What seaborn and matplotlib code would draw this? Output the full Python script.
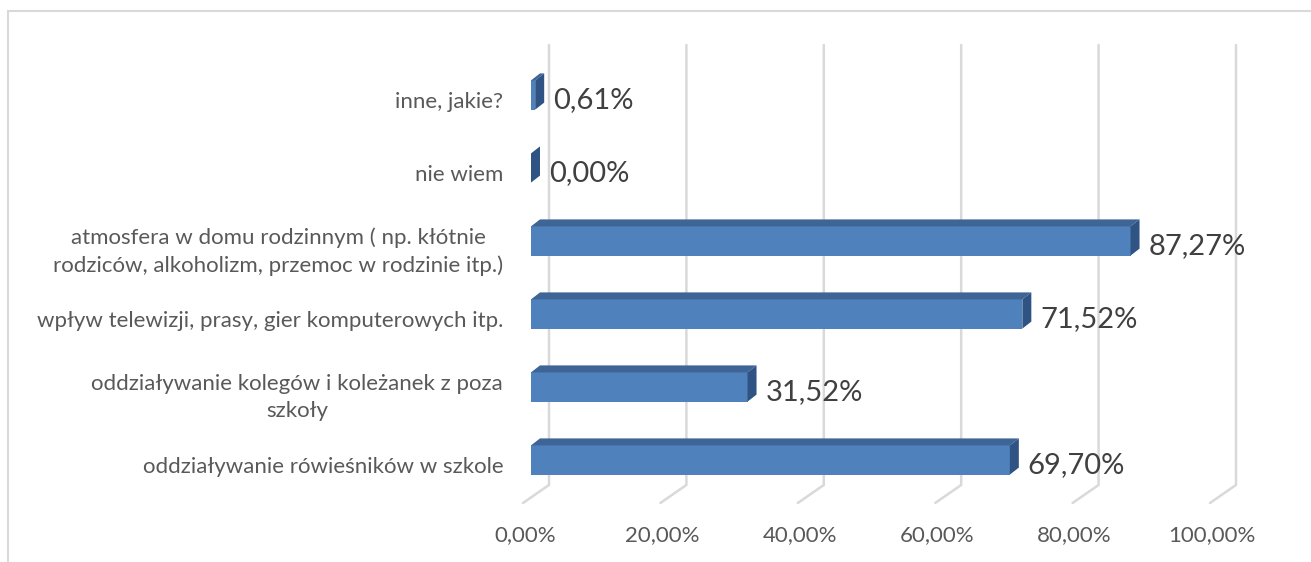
import numpy as np
import pandas as pd
import seaborn as sns
import matplotlib.pyplot as plt
import matplotlib.transforms as mtransforms
from matplotlib.patches import Polygon, Rectangle

# data (top to bottom as in the chart)
categories = [
    'inne, jakie?',
    'nie wiem',
    'atmosfera w domu rodzinnym ( np. kłótnie\nrodziców, alkoholizm, przemoc w rodzinie itp.)',
    'wpływ telewizji, prasy, gier komputerowych itp.',
    'oddziaływanie kolegów i koleżanek z poza\nszkoły',
    'oddziaływanie rówieśników w szkole',
]
values = [0.61, 0.00, 87.27, 71.52, 31.52, 69.70]
labels = ['0,61%', '0,00%', '87,27%', '71,52%', '31,52%', '69,70%']
ticks = [0, 20, 40, 60, 80, 100]
tick_labels = ['0,00%', '20,00%', '40,00%', '60,00%', '80,00%', '100,00%']

df = pd.DataFrame({'cat': categories, 'val': values})

sns.set_style('white')
plt.rcParams['font.family'] = ['Lato', 'DejaVu Sans']

front = '#4F81BD'
top = '#3E6595'
side = '#2F5382'
grid = '#D9D9D9'

fig = plt.figure(figsize=(13.11, 5.62), dpi=100)
ax = fig.add_axes([531 / 1311, 1 - 514.75 / 562, 687 / 1311, 474.5 / 562])

bar_h = 0.40
sns.barplot(data=df, x='val', y='cat', orient='y', color=front, width=bar_h,
            saturation=1, edgecolor='none', ax=ax, zorder=3)

ax.set_xlim(0, 100)
ax.set_ylim(5.75, -0.75)

# 3d look: depth offsets in data units (px / px-per-unit)
dx = 9 / 6.875
dy = 7 / 73
for i, v in enumerate(values):
    y0 = i - bar_h / 2
    y1 = i + bar_h / 2
    ax.add_patch(Polygon([(0, y0), (v, y0), (v + dx, y0 - dy), (dx, y0 - dy)],
                         closed=True, facecolor=top, edgecolor='none', zorder=3, clip_on=False))
    ax.add_patch(Polygon([(v, y0), (v + dx, y0 - dy), (v + dx, y1 - dy), (v, y1)],
                         closed=True, facecolor=side, edgecolor='none', zorder=3, clip_on=False))
    ax.text(v + dx + 1.3, i + 0.07, labels[i], ha='left', va='center',
            fontsize=21, color='#404040')

# gridlines on the back wall with slanted floor
back = 18 / 6.875
fr = 8 / 6.875
for g, lab in zip(ticks, tick_labels):
    ax.plot([g + back, g + back, g - fr], [-0.685, 5.342, 5.589],
            color=grid, lw=1.8, zorder=0, clip_on=False)
    ax.text(g - 0.9, 6.03, lab, ha='center', va='center', fontsize=16, color='#595959')

ax.set_xticks([])
ax.set_xlabel('')
ax.set_ylabel('')
ax.tick_params(axis='y', length=0, pad=20, labelsize=16, labelcolor='#595959')
shift = mtransforms.ScaledTranslation(0, -5 / 100, fig.dpi_scale_trans)
for t in ax.get_yticklabels():
    t.set_multialignment('center')
    t.set_linespacing(1.45)
    t.set_transform(t.get_transform() + shift)
sns.despine(ax=ax, left=True, bottom=True)

# outer chart frame
fig.add_artist(Rectangle((8 / 1311, -0.1), 1.2, 1 - 11 / 562 + 0.1, transform=fig.transFigure,
                         fill=False, edgecolor=grid, lw=1.5))

fig.savefig('out.png', dpi=100)
